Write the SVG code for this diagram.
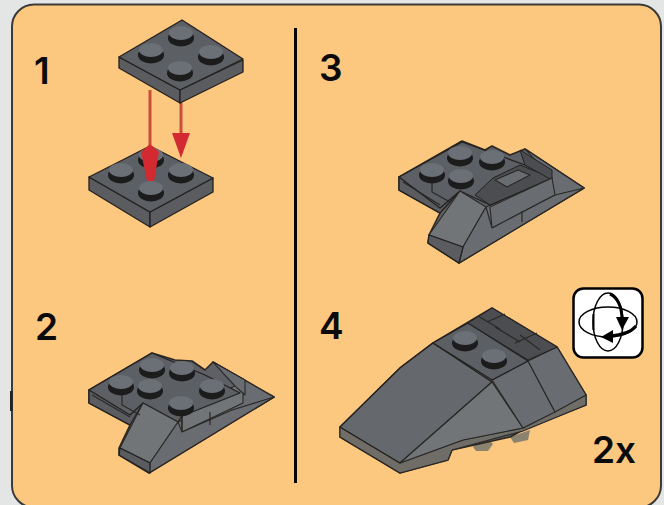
<svg xmlns="http://www.w3.org/2000/svg" width="664" height="505" viewBox="0 0 664 505">
<style>
.t{font-family:"Inter","Liberation Sans",sans-serif;font-weight:600;fill:#0b0b0b}
.base{fill:#5e6165;stroke:#2c2722;stroke-width:1.6;stroke-linejoin:round}
.top{fill:#5b5e63;stroke:#24211f;stroke-width:1.3;stroke-linejoin:round}
.side{fill:#5a5c60;stroke:#24211f;stroke-width:1.3;stroke-linejoin:round}
.lite{fill:#727578;stroke:#2a2826;stroke-width:1.1;stroke-linejoin:round}
.mid{fill:#696c70;stroke:#2a2826;stroke-width:1.1;stroke-linejoin:round}
.dk{fill:#4b4d51;stroke:#232220;stroke-width:1;stroke-linejoin:round}
.ln{fill:none;stroke:#2a2826;stroke-width:1.2}
.a{fill:none;stroke:#c9503c;stroke-width:3}
.h{fill:#d32a33}
.i{fill:none;stroke:#000;stroke-width:1.5}
.b{fill:none;stroke:#000;stroke-width:3}
</style>
<defs>
<g id="stud"><ellipse cx="0" cy="3" rx="13" ry="8.5" fill="#1a1b1e"/><ellipse cx="0" cy="-2" rx="12" ry="7" fill="#6b7076"/></g>
<filter id="soft" x="-5%" y="-5%" width="110%" height="110%"><feGaussianBlur stdDeviation="0.7"/></filter>
</defs>
<rect width="664" height="505" fill="#e4e6e6"/>
<rect x="12" y="4.5" width="649" height="503" rx="22" fill="#fcc77f" stroke="#3a3a38" stroke-width="2"/>
<rect x="10" y="391" width="2.5" height="20" fill="#222"/>
<rect x="294" y="28" width="3" height="455" fill="#050505"/>
<g id="step1" filter="url(#soft)">
<g id="plate-lower">
<path class="side" d="M89 177L150 212V227L89 190Z"/><path class="side" d="M213 178L150 212V227L213 192Z"/>
<path class="top" d="M150 146L213 178L150 212L89 177Z"/>
<use href="#stud" x="151" y="157"/><use href="#stud" x="121" y="172"/><use href="#stud" x="181" y="172"/><use href="#stud" x="151" y="190"/>
</g>
<g id="arrows">
<path class="a" d="M150 90V146"/><path class="h" d="M141 152L150 144L159 152L154 181H147Z"/>
<path class="a" d="M181 103V135"/><path class="h" d="M172 133H190L181 158Z"/>
</g>
<g id="plate-upper">
<path class="side" d="M119 57L180 90V103L119 68Z"/><path class="side" d="M243 60L180 90V103L243 72Z"/>
<path class="top" d="M182 20L243 59L180 90L119 57Z"/>
<use href="#stud" x="181" y="35"/><use href="#stud" x="151" y="52"/><use href="#stud" x="211" y="54"/><use href="#stud" x="180" y="70"/>
</g>
</g>
<g id="step2" filter="url(#soft)">
<path class="base" d="M89 390L152 353L175 360L192 361L205 370L213 362L274 397L149 473L119 455L119 448L130 425L89 403Z"/>
<path class="side" d="M89 390V403L130 425L143 403Z"/>
<path class="mid" d="M213 362L274 397L150 470L178 422L243 395Z"/>
<path class="lite" d="M182 412L243 382L243 403L182 432Z"/>
<path class="top" d="M89 390L152 353L205 375L240 393L182 416L178 422L143 403L130 415Z"/>
<path class="mid" d="M213 362L245 380V395L237 388Z"/>
<path class="lite" d="M143 403L178 422L150 463L120 448Z"/>
<path class="mid" d="M178 422L182 432L232 410L274 397L149 473L150 463Z"/>
<path class="side" d="M120 448L150 463V473L119 455Z"/>
<path class="ln" d="M92 395L130 417M122 393V405L140 415M182 412V432M210 412V425"/>
<use href="#stud" x="152" y="367"/><use href="#stud" x="182" y="370"/><use href="#stud" x="121" y="384"/><use href="#stud" x="150" y="388"/><use href="#stud" x="212" y="388"/><use href="#stud" x="181" y="405"/>
</g>
<g id="step3" filter="url(#soft)">
<path class="base" d="M399 177L462 141L485 150L492 146L510 155L525 149L584 188L459 263L428 243L429 235L440 213L399 190Z"/>
<path class="side" d="M399 177V190L440 213L460 191Z"/>
<path class="mid" d="M525 149L584 188L459 263L486 207L552 178Z"/>
<path class="top" d="M399 177L462 142L525 165L552 178L490 205L460 191L440 208Z"/>
<path class="dk" d="M493 178L520 165L552 178L490 205L475 195Z"/>
<path class="mid" d="M495 180L518 170L530 175L507 187Z"/>
<path class="dk" d="M520 150L552 170V180L525 165Z"/>
<path class="mid" d="M490 207L552 178L555 195L492 228Z"/>
<path class="lite" d="M460 191L486 207L463 247L429 235Z"/>
<path class="mid" d="M486 207L492 228L555 195L584 188L459 263L463 247Z"/>
<path class="side" d="M429 235L463 247L459 263L428 243Z"/>
<path class="ln" d="M403 182L440 205M432 183V192L450 202M522 211V222"/>
<use href="#stud" x="460" y="155"/><use href="#stud" x="492" y="159"/><use href="#stud" x="432" y="172"/><use href="#stud" x="461" y="178"/>
</g>
<g id="step4" filter="url(#soft)">
<path d="M473 447L477 442L490 441L493 444L488 451H476Z" fill="#8c8270"/><path d="M510 437L530 430L528 440L514 443Z" fill="#8c8270"/>
<path class="base" d="M340 427L400 368L433 343L492 308L557 347L586 395V405L523 430L510 437L452 450L448 460L400 473L340 437Z"/>
<path class="mid" d="M340 427L400 463L463 440L523 428L586 395V405L523 431L452 450L448 460L400 473L340 437Z" style="fill:#6f6d68"/>
<path class="top" d="M340 427L400 368L433 343L492 382L400 463Z" style="fill:#65686c"/>
<path class="lite" d="M492 382L523 428L463 440L400 463Z"/>
<path class="mid" d="M492 380L528 361L555 412L523 428Z"/>
<path class="mid" d="M528 361L557 347L586 395L555 412Z"/>
<path class="top" d="M433 343L468 323L528 361L492 380Z"/>
<path class="dk" d="M468 323L492 308L557 347L528 360Z"/>
<path class="ln" d="M478 316L500 329M495 327L520 342M520 335L540 350M515 343L537 333M487 322L505 314"/>
<use href="#stud" x="465" y="340"/><use href="#stud" x="494" y="358"/>
</g>
<g id="rotate-icon">
<rect x="573.5" y="288.5" width="69" height="69" rx="10" fill="#fff" stroke="#000" stroke-width="2.5"/>
<ellipse class="i" cx="608" cy="322" rx="15" ry="29"/>
<ellipse class="i" cx="608" cy="322" rx="29" ry="15"/>
<path class="b" d="M610 294C617 297 622 306 622 320"/><path d="M616 317H629L622 330Z"/>
<path class="b" d="M636 326C632 331 622 335 610 336"/><path d="M613 330L601 337L613 343Z"/>
<rect x="592.5" y="314" width="2" height="16" fill="#000"/>
</g>
<g id="labels">
<text class="t" x="34" y="84" font-size="37">1</text>
<text class="t" x="35" y="340" font-size="37">2</text>
<text class="t" x="319" y="81" font-size="37">3</text>
<text class="t" x="319" y="339" font-size="37">4</text>
<text class="t" x="592" y="463" font-size="37">2x</text>
</g>
</svg>
